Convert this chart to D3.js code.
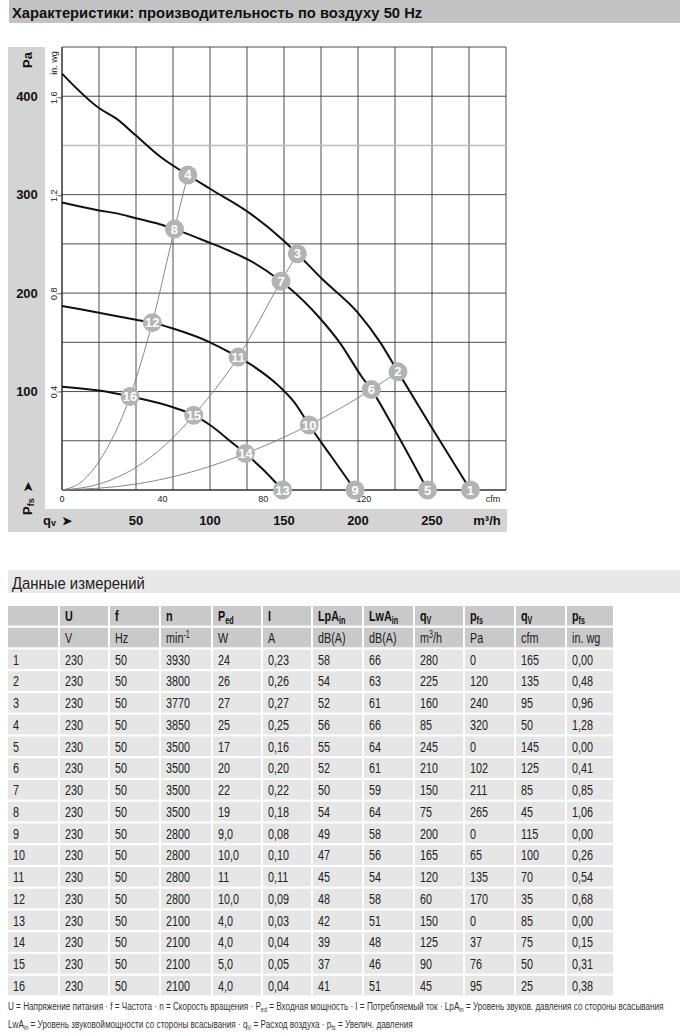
<!DOCTYPE html>
<html>
<head>
<meta charset="utf-8">
<script src="https://cdn.jsdelivr.net/npm/d3@7"></script>
<style>
html,body{margin:0;padding:0;background:#fff;}
svg{display:block;}
</style>
</head>
<body>
<script>
// ---------- DATA ----------
// fan characteristic curves (q in m³/h, p in Pa)
const curve3930 = [[0,423],[25,388],[37,377],[50,360],[66,339],[85,320],[100,306],[127,281],[150,253],[159,240],[176,214],[200,180],[215,150],[227,120],[250,63],[276,0]];
const curve3500 = [[0,292],[25,284],[37,281],[50,276],[66,270],[76,265],[100,251],[113,243],[127,233],[148,212],[153,206],[174,175],[188,149],[203,114],[209,102],[226,58],[247,0]];
const curve2800 = [[0,187],[25,180],[50,173],[61,170],[75,164],[100,150],[113,140],[119,135],[130,125],[147,105],[157,89],[167,66],[182,34],[198,0]];
const curve2100 = [[0,105],[25,101],[46,95],[75,84],[89,76],[100,66],[115,48],[124,37],[135,22],[149,0]];
// system resistance curves
const systemSteep = [[0,0],[12,7],[25,29],[46,95],[61,170],[76,265],[85,320]];
const systemMid = [[0,0],[25,6],[50,23],[70,46],[89,76],[119,135],[148,212],[159,240]];
const systemFlat = [[0,0],[50,6],[100,24],[124,37],[167,66],[209,102],[227,120]];
// operating point markers
const markerIds = [1,2,3,4,5,6,7,8,9,10,11,12,13,14,15,16];
const markerQ = [276,227,159,85,247,209,148,76,198,167,119,61,149,124,89,46];
const markerP = [0,120,240,320,0,102,212,265,0,66,135,170,0,37,76,95];
// axis ticks
const paTicks = [100,200,300,400];
const inwgTicks = ["0.4","0.8","1.2","1.6"];
const inwgValues = [0.4,0.8,1.2,1.6];
const cfmTicks = [0,40,80,120];
const m3hTicks = [50,100,150,200,250];

// table
const colHeads = ["","U","f","n","P|ed","I","LpA|in","LwA|in","q|V","p|fs","q|V","p|fs"];
const colUnits = ["","V","Hz","min-1","W","A","dB(A)","dB(A)","m3/h","Pa","cfm","in. wg"];
const rowNo = ["1","2","3","4","5","6","7","8","9","10","11","12","13","14","15","16"];
const colU = ["230","230","230","230","230","230","230","230","230","230","230","230","230","230","230","230"];
const colF = ["50","50","50","50","50","50","50","50","50","50","50","50","50","50","50","50"];
const colN = ["3930","3800","3770","3850","3500","3500","3500","3500","2800","2800","2800","2800","2100","2100","2100","2100"];
const colPed = ["24","26","27","25","17","20","22","19","9,0","10,0","11","10,0","4,0","4,0","5,0","4,0"];
const colI = ["0,23","0,26","0,27","0,25","0,16","0,20","0,22","0,18","0,08","0,10","0,11","0,09","0,03","0,04","0,05","0,04"];
const colLpA = ["58","54","52","56","55","52","50","54","49","47","45","48","42","39","37","41"];
const colLwA = ["66","63","61","66","64","61","59","64","58","56","54","58","51","48","46","51"];
const colQm3h = ["280","225","160","85","245","210","150","75","200","165","120","60","150","125","90","45"];
const colPfsPa = ["0","120","240","320","0","102","211","265","0","65","135","170","0","37","76","95"];
const colQcfm = ["165","135","95","50","145","125","85","45","115","100","70","35","85","75","50","25"];
const colPfsIn = ["0,00","0,48","0,96","1,28","0,00","0,41","0,85","1,06","0,00","0,26","0,54","0,68","0,00","0,15","0,31","0,38"];

// ---------- DRAW ----------
const SANS = '"Liberation Sans",Arial,sans-serif';
const W = 680, H = 1036;
const svg = d3.select("body").append("svg").attr("width", W).attr("height", H);

// squeeze a text horizontally so that it spans the given width
function fitWidth(t, x0, target) {
  const w = t.node().getBBox().width;
  const s = target / w;
  t.attr("transform", `translate(${x0},0) scale(${s},1) translate(${-x0},0)`);
}
// condensed text at (x,y)
function narrow(parent, x0, y0, size, sx) {
  return parent.append("text").attr("transform", `translate(${x0},${y0}) scale(${sx},1)`)
    .attr("font-family", SANS).attr("font-size", size);
}

// title band
svg.append("rect").attr("x", 9).attr("y", 0).attr("width", W - 9).attr("height", 23).attr("fill", "#c2c2c2");
const title = svg.append("text").attr("x", 12).attr("y", 18).attr("font-family", SANS).attr("font-weight", "bold")
  .attr("font-size", 15.5).attr("fill", "#111").text("Характеристики: производительность по воздуху 50 Hz");
fitWidth(title, 12, 411);

// chart frame geometry
const pL = 62, pR = 506, pT = 47, pB = 490;
const x = d3.scaleLinear().domain([0, 300]).range([pL, pR]);
const y = d3.scaleLinear().domain([0, 450]).range([pB, pT]);
const xCfm = d3.scaleLinear().domain([0, 300 / 1.699]).range([pL, pR]);
const yIn = d3.scaleLinear().domain([0, 450 / 249.09]).range([pB, pT]);

// gray L band
svg.append("rect").attr("x", 8).attr("y", pT).attr("width", 37).attr("height", 485).attr("fill", "#d4d4d4");
svg.append("rect").attr("x", 8).attr("y", 509).attr("width", 499).attr("height", 23).attr("fill", "#d4d4d4");

// grid
const g = svg.append("g");
g.selectAll(".vg").data(d3.range(0, 301, 25)).join("line")
  .attr("x1", d => x(d)).attr("x2", d => x(d)).attr("y1", pT).attr("y2", pB)
  .attr("stroke", "#3a3a3a").attr("stroke-width", 0.9);
g.selectAll(".hg").data(d3.range(0, 451, 50)).join("line")
  .attr("x1", pL).attr("x2", pR).attr("y1", d => y(d)).attr("y2", d => y(d))
  .attr("stroke", d => d === 350 ? "#bdbdbd" : "#3a3a3a").attr("stroke-width", d => d === 350 ? 1.4 : 0.9);

// in. wg axis ticks (left side, rotated labels)
const inG = svg.append("g");
inwgValues.forEach((v, i) => {
  inG.append("line").attr("x1", pL - 4).attr("x2", pL).attr("y1", yIn(v)).attr("y2", yIn(v)).attr("stroke", "#333").attr("stroke-width", 0.8);
  inG.append("text").attr("transform", `translate(57,${yIn(v)}) rotate(-90)`).attr("text-anchor", "middle")
    .attr("font-family", SANS).attr("font-size", 9).attr("fill", "#222").text(inwgTicks[i]);
});
inG.append("text").attr("transform", `translate(57,63) rotate(-90)`).attr("text-anchor", "middle")
  .attr("font-family", SANS).attr("font-size", 9).attr("fill", "#222").text("in. wg");

// Pa labels
paTicks.forEach(v => {
  svg.append("text").attr("x", 27).attr("y", y(v) + 4.5).attr("text-anchor", "middle")
    .attr("font-family", SANS).attr("font-weight", "bold").attr("font-size", 13).attr("fill", "#111").text(v);
});
svg.append("text").attr("transform", "translate(32,60) rotate(-90)").attr("text-anchor", "middle")
  .attr("font-family", SANS).attr("font-weight", "bold").attr("font-size", 13).attr("fill", "#111").text("Pa");

// Pfs label
const pfs = svg.append("text").attr("transform", "translate(32,515) rotate(-90)")
  .attr("font-family", SANS).attr("font-weight", "bold").attr("font-size", 13).attr("fill", "#111");
pfs.append("tspan").text("P");
pfs.append("tspan").attr("font-size", 9).attr("dy", 2).text("fs");
pfs.append("tspan").attr("dy", -2).attr("dx", 6).attr("font-size", 12).text("➤");

// cfm ticks
cfmTicks.forEach(v => {
  svg.append("text").attr("x", xCfm(v)).attr("y", 502).attr("text-anchor", "middle")
    .attr("font-family", SANS).attr("font-size", 9).attr("fill", "#222").text(v);
});
svg.append("text").attr("x", 493).attr("y", 502).attr("text-anchor", "middle")
  .attr("font-family", SANS).attr("font-size", 9).attr("fill", "#222").text("cfm");

// m3/h labels
m3hTicks.forEach(v => {
  svg.append("text").attr("x", x(v)).attr("y", 525).attr("text-anchor", "middle")
    .attr("font-family", SANS).attr("font-weight", "bold").attr("font-size", 13).attr("fill", "#111").text(v);
});
svg.append("text").attr("x", 487).attr("y", 525).attr("text-anchor", "middle")
  .attr("font-family", SANS).attr("font-weight", "bold").attr("font-size", 13).attr("fill", "#111").text("m³/h");
const qv = svg.append("text").attr("x", 43).attr("y", 525)
  .attr("font-family", SANS).attr("font-weight", "bold").attr("font-size", 13).attr("fill", "#111");
qv.append("tspan").text("q");
qv.append("tspan").attr("font-size", 9).attr("dy", 1).text("v");
qv.append("tspan").attr("dy", -1).attr("dx", 6).attr("font-size", 12).text("➤");

// axis lines
svg.append("line").attr("x1", pL).attr("x2", pL).attr("y1", pT).attr("y2", pB).attr("stroke", "#222").attr("stroke-width", 1);
svg.append("line").attr("x1", pL).attr("x2", pR).attr("y1", pB).attr("y2", pB).attr("stroke", "#222").attr("stroke-width", 1);

// curves
const line = d3.line().x(d => x(d[0])).y(d => y(d[1])).curve(d3.curveMonotoneX);
[systemSteep, systemMid, systemFlat].forEach(s => {
  svg.append("path").attr("d", line(s)).attr("fill", "none").attr("stroke", "#7a7a7a").attr("stroke-width", 0.9);
});
[curve3930, curve3500, curve2800, curve2100].forEach(c => {
  svg.append("path").attr("d", line(c)).attr("fill", "none").attr("stroke", "#111").attr("stroke-width", 2);
});

// markers
const mk = svg.append("g").selectAll("g").data(markerIds.map((id, i) => ({id, q: markerQ[i], p: markerP[i]}))).join("g")
  .attr("transform", d => `translate(${x(d.q)},${y(d.p)})`);
mk.append("circle").attr("r", 9.5).attr("fill", "#b3b3b3");
mk.append("text").attr("text-anchor", "middle").attr("dy", 4.5)
  .attr("font-family", SANS).attr("font-weight", "bold").attr("font-size", 13).attr("fill", "#fff").text(d => d.id);

// ---------- TABLE ----------
svg.append("rect").attr("x", 8).attr("y", 570).attr("width", W - 8).attr("height", 23).attr("fill", "#e8e8e8");
const sub = svg.append("text").attr("x", 12).attr("y", 589).attr("font-family", SANS).attr("font-size", 17).attr("fill", "#222").text("Данные измерений");
fitWidth(sub, 12, 133);

const colX = [8, 60, 110, 161, 213, 263, 313, 364, 415, 465, 516, 567, 615];
const tTop = 606, pitch = 21.75, rowH = 19.6;
const SX = 0.72, FS = 15;
const cols = [rowNo, colU, colF, colN, colPed, colI, colLpA, colLwA, colQm3h, colPfsPa, colQcfm, colPfsIn];
const tbl = svg.append("g");
for (let r = 0; r < 2; r++) {
  for (let c = 0; c < 12; c++) {
    tbl.append("rect").attr("x", colX[c]).attr("y", tTop + r * pitch).attr("width", colX[c + 1] - colX[c] - 2).attr("height", rowH).attr("fill", "#c9c9c9");
  }
}
colHeads.forEach((h, c) => {
  if (!h) return;
  const parts = h.split("|");
  const t = narrow(tbl, colX[c] + 5, tTop + 15, FS, SX).attr("font-weight", "bold").attr("fill", "#111");
  t.append("tspan").text(parts[0]);
  if (parts[1]) t.append("tspan").attr("font-size", 10).attr("dy", 3).text(parts[1]);
});
colUnits.forEach((u, c) => {
  if (!u) return;
  const t = narrow(tbl, colX[c] + 5, tTop + pitch + 15, FS, SX).attr("fill", "#222");
  if (u === "min-1") { t.append("tspan").text("min"); t.append("tspan").attr("font-size", 10).attr("dy", -5).text("-1"); }
  else if (u === "m3/h") { t.append("tspan").text("m"); t.append("tspan").attr("font-size", 10).attr("dy", -5).text("3"); t.append("tspan").attr("dy", 5).text("/h"); }
  else t.text(u);
});
rowNo.forEach((rn, r) => {
  const yy = tTop + (r + 2) * pitch;
  for (let c = 0; c < 12; c++) {
    tbl.append("rect").attr("x", colX[c]).attr("y", yy).attr("width", colX[c + 1] - colX[c] - 2).attr("height", rowH).attr("fill", "#e6e6e6");
    narrow(tbl, colX[c] + 5, yy + 15, FS, SX).attr("fill", "#222").text(cols[c][r]);
  }
});

// footnotes
const fn1 = svg.append("text").attr("x", 8).attr("y", 1010).attr("font-family", SANS).attr("font-size", 11).attr("fill", "#333");
fn1.append("tspan").text("U = Напряжение питания · f = Частота · n = Скорость вращения · P");
fn1.append("tspan").attr("font-size", 7.5).attr("dy", 2).text("ed");
fn1.append("tspan").attr("dy", -2).text(" = Входная мощность · I = Потребляемый ток · LpA");
fn1.append("tspan").attr("font-size", 7.5).attr("dy", 2).text("in");
fn1.append("tspan").attr("dy", -2).text(" = Уровень звуков. давления со стороны всасывания");
fitWidth(fn1, 8, 657);
const fn2 = svg.append("text").attr("x", 8).attr("y", 1028).attr("font-family", SANS).attr("font-size", 11).attr("fill", "#333");
fn2.append("tspan").text("LwA");
fn2.append("tspan").attr("font-size", 7.5).attr("dy", 2).text("in");
fn2.append("tspan").attr("dy", -2).text(" = Уровень звуковоймощности со стороны всасывания · q");
fn2.append("tspan").attr("font-size", 7.5).attr("dy", 2).text("V");
fn2.append("tspan").attr("dy", -2).text(" = Расход воздуха · p");
fn2.append("tspan").attr("font-size", 7.5).attr("dy", 2).text("fs");
fn2.append("tspan").attr("dy", -2).text(" = Увелич. давления");
fitWidth(fn2, 8, 405);
</script>
</body>
</html>
